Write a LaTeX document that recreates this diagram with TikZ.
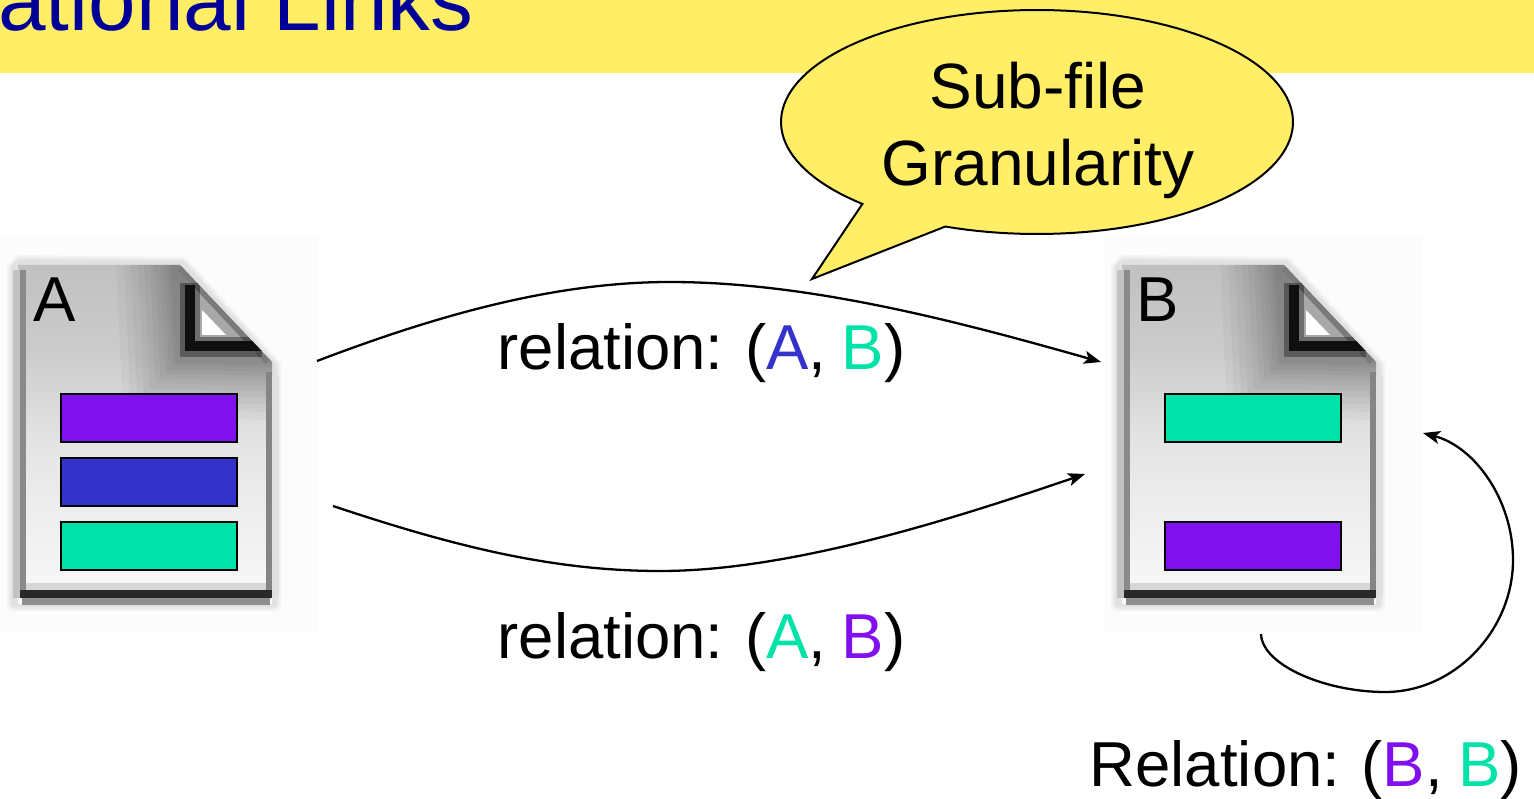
\documentclass[tikz,border=0pt]{standalone}
\usepackage{fontspec}
\setmainfont{Liberation Sans}
\usetikzlibrary{arrows.meta}
\definecolor{barY}{HTML}{FFEE66}
\definecolor{navyT}{HTML}{000099}
\definecolor{pur}{HTML}{8010EE}
\definecolor{blu}{HTML}{3333CC}
\definecolor{tea}{HTML}{00E3A8}
\pgfdeclareverticalshading{iconbody}{100bp}{
 color(0bp)=(white);
 color(16bp)=(white);
 color(30bp)=(white!96!black);
 color(48bp)=(white!90!black);
 color(62bp)=(white!80!black);
 color(85bp)=(white!72!black);
 color(100bp)=(white!68!black)}
\newcommand{\tightsp}{\spaceskip=15.6pt\relax}
\tikzset{
 txt/.style={anchor=base west,inner sep=0pt,font=\fontsize{63.5}{77}\selectfont},
 seg/.style={draw=black,line width=1.6pt,minimum width=176pt,minimum height=48pt,inner sep=0pt,outer sep=0pt},
 link/.style={line width=2.3pt,-{Stealth[length=17pt,width=13pt,inset=4pt]}},
}
\newcommand{\bodypath}{(18,265) -- (180,265) -- (272,362) -- (272,604) -- (18,604) -- cycle}
\newcommand{\fileicon}{%
 \fill[white!99!black] (0,235) rectangle (318,632);
 \foreach \w in {14,10,6}
  \draw[black,opacity=.035,line width=\w pt,line join=round] (14,268) -- (14,604) -- (274,604) -- (274,366) -- (182,264) -- (20,262) -- cycle;
 \path[shading=iconbody] \bodypath;
 \begin{scope}
  \clip \bodypath;
  \foreach \w in {140,124,110,96,84,72,62,52,44,36,30}
   \draw[black,opacity=.032,line width=\w pt] (186,262) -- (190,348) -- (280,350);
  \fill[white!66!black] (190,275) -- (190,345) -- (262,345) -- cycle;
  \fill[white] (202,310) -- (202,335) -- (226,335) -- cycle;
  \draw[white!48!black,line width=6pt] (180,268) -- (268,362);
  \draw[white!85!black,line width=3pt] (187,265) -- (278,362);
  \draw[black,opacity=.35,line width=20pt] (190,283) -- (190,347) -- (262,347);
  \draw[white!6!black,line width=10pt] (190,285) -- (190,346) -- (262,346);
 \end{scope}
 \fill[white!76!black] (13,270) rectangle (20,598);
 \fill[white!54!black] (20,270) rectangle (26,598);
 \fill[white!52!black] (266,372) rectangle (272,598);
 \fill[white!88!black] (272,376) rectangle (279,598);
 \fill[white!84!black] (26,583) rectangle (266,590);
 \fill[white!16!black] (20,590) rectangle (272,598);
 \fill[white!56!black] (22,598) rectangle (270,605);
}
\begin{document}
\begin{tikzpicture}[x=1pt,y=-1pt]
\useasboundingbox (0,0) rectangle (1534,799);
\clip (0,0) rectangle (1534,799);
\fill[white] (0,0) rectangle (1534,799);
\fill[barY] (0,0) rectangle (1534,73);
\node[anchor=base west,inner sep=0pt,text=navyT,font=\fontsize{85.5}{100}\selectfont] (title) at (-2,31) {ational Links};

\fileicon
\begin{scope}[xshift=1104pt]
\fileicon
\end{scope}

\node[seg,fill=pur] (a1) at (149,418) {};
\node[seg,fill=blu] (a2) at (149,482) {};
\node[seg,fill=tea] (a3) at (149,546) {};
\node[seg,fill=tea] (b1) at (1253,418) {};
\node[seg,fill=pur] (b2) at (1253,546) {};
\node[txt] (la) at (33,322) {A};
\node[txt] (lb) at (1136,322) {B};

\draw[fill=barY,line width=2pt,line join=miter] (812,279) -- plot[domain=133:471,samples=140] ({1037+256*cos(\x)},{122+112*sin(\x)}) -- cycle;
\node[inner sep=0pt,align=center,font=\fontsize{64}{77}\selectfont] (call) at (1038,130) {Sub-file\\Granularity};

\coordinate (s1) at (317,361);
\coordinate (e1) at (1101,362);
\coordinate (s2) at (333,506);
\coordinate (e2) at (1085,474);
\coordinate (s3) at (1261,634);
\coordinate (e3) at (1423,433);
\draw[link] (s1) .. controls (430,318) and (550,282) .. (670,282) .. controls (810,282) and (960,322) .. (e1);
\draw[link] (s2) .. controls (450,545) and (550,571) .. (660,571) .. controls (790,571) and (950,520) .. (e2);
\draw[link] (s3) .. controls (1262,665) and (1325,692) .. (1385,692) .. controls (1455,692) and (1513,630) .. (1513,560) .. controls (1513,500) and (1475,447) .. (e3);

\node[txt] (r1) at (497.5,370) {\tightsp relation: (\textcolor{blu}{A}, \textcolor{tea}{B})};
\node[txt] (r2) at (497.5,658) {\tightsp relation: (\textcolor{tea}{A}, \textcolor{pur}{B})};
\node[txt] (r3) at (1089.5,786) {\tightsp Relation: (\textcolor{pur}{B}, \textcolor{tea}{B})};
\end{tikzpicture}
\end{document}
